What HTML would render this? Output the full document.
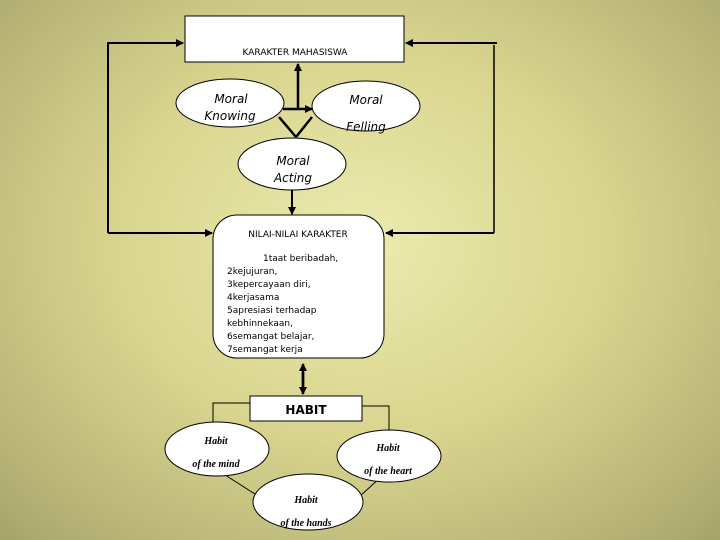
<!DOCTYPE html>
<html><head><meta charset="utf-8"><style>
html,body{margin:0;padding:0;width:720px;height:540px;overflow:hidden}
body{background:radial-gradient(ellipse 75% 80% at 50% 45%,#ecebae 0%,#d9d58f 45%,#b4b074 85%,#a09d66 100%)}
svg{position:absolute;left:0;top:0}
text{font-family:"DejaVu Sans","Liberation Sans",sans-serif}
.i{font-style:italic}
.s{font-family:"Liberation Serif",serif;font-style:italic;font-weight:bold}
</style></head><body>
<svg width="720" height="540" viewBox="0 0 720 540">
<defs><marker id="a" markerWidth="8" markerHeight="8" refX="7" refY="4" orient="auto" markerUnits="userSpaceOnUse"><path d="M0,0L8,4L0,8z" fill="#000"/></marker></defs>
<g stroke="#000" fill="none">
<polyline points="108,233 108,43 183,43" stroke-width="2" marker-end="url(#a)"/>
<line x1="108" y1="43" x2="108" y2="233" stroke-width="1.5"/>
<line x1="108" y1="233" x2="212" y2="233" stroke-width="2" marker-end="url(#a)"/>
<line x1="497" y1="43" x2="406" y2="43" stroke-width="2" marker-end="url(#a)"/>
<line x1="494" y1="45" x2="494" y2="233" stroke-width="1.5"/>
<line x1="494" y1="233" x2="386" y2="233" stroke-width="2" marker-end="url(#a)"/>
<line x1="298" y1="110" x2="298" y2="64" stroke-width="2.5" marker-end="url(#a)"/>
<line x1="283" y1="109" x2="312" y2="109" stroke-width="2.5" marker-end="url(#a)"/>
<line x1="279" y1="117" x2="296" y2="137" stroke-width="2.5"/>
<line x1="312" y1="117" x2="296" y2="137" stroke-width="2.5"/>
<line x1="292" y1="190" x2="292" y2="214" stroke-width="2" marker-end="url(#a)"/>
<line x1="303" y1="372" x2="303" y2="394" stroke-width="2.5" marker-end="url(#a)"/>
<line x1="303" y1="386" x2="303" y2="364" stroke-width="2.5" marker-end="url(#a)"/>
<polyline points="250,403 213,403 213,430" stroke-width="1"/>
<polyline points="362,406 389,406 389,432" stroke-width="1"/>
<line x1="222" y1="473" x2="258" y2="496" stroke-width="1"/>
<line x1="381" y1="477" x2="360" y2="496" stroke-width="1"/>
</g>
<g stroke="#000" fill="#fff" stroke-width="1">
<rect x="185" y="16" width="219" height="46"/>
<ellipse cx="230" cy="103" rx="54" ry="24"/>
<ellipse cx="366" cy="106" rx="54" ry="25"/>
<ellipse cx="292" cy="164" rx="54" ry="26"/>
<rect x="213" y="215" width="171" height="143" rx="24"/>
<rect x="250" y="396" width="112" height="25"/>
<ellipse cx="217" cy="449" rx="52" ry="27"/>
<ellipse cx="389" cy="456" rx="52" ry="26"/>
<ellipse cx="308" cy="502" rx="55" ry="28"/>
</g>
<g fill="#000">
<text x="295" y="55" font-size="9" text-anchor="middle">KARAKTER MAHASISWA</text>
<text x="231" y="103" font-size="12" class="i" text-anchor="middle">Moral</text>
<text x="230" y="120" font-size="12" class="i" text-anchor="middle">Knowing</text>
<text x="366" y="104" font-size="12" class="i" text-anchor="middle">Moral</text>
<text x="366" y="131" font-size="12" class="i" text-anchor="middle">Felling</text>
<text x="293" y="165" font-size="12" class="i" text-anchor="middle">Moral</text>
<text x="293" y="182" font-size="12" class="i" text-anchor="middle">Acting</text>
<text x="298" y="237" font-size="9" text-anchor="middle">NILAI-NILAI KARAKTER</text>
<g font-size="9">
<text x="263" y="261">1taat beribadah,</text>
<text x="227" y="274">2kejujuran,</text>
<text x="227" y="287">3kepercayaan diri,</text>
<text x="227" y="300">4kerjasama</text>
<text x="227" y="313">5apresiasi terhadap</text>
<text x="227" y="326">kebhinnekaan,</text>
<text x="227" y="339">6semangat belajar,</text>
<text x="227" y="352">7semangat kerja</text>
</g>
<text x="306" y="414" font-size="12" font-weight="bold" text-anchor="middle">HABIT</text>
<text x="216" y="444" font-size="10" class="s" text-anchor="middle">Habit</text>
<text x="216" y="467" font-size="10" class="s" text-anchor="middle">of the mind</text>
<text x="388" y="451" font-size="10" class="s" text-anchor="middle">Habit</text>
<text x="388" y="474" font-size="10" class="s" text-anchor="middle">of the heart</text>
<text x="306" y="503" font-size="10" class="s" text-anchor="middle">Habit</text>
<text x="306" y="526" font-size="10" class="s" text-anchor="middle">of the hands</text>
</g>
</svg>
</body></html>
